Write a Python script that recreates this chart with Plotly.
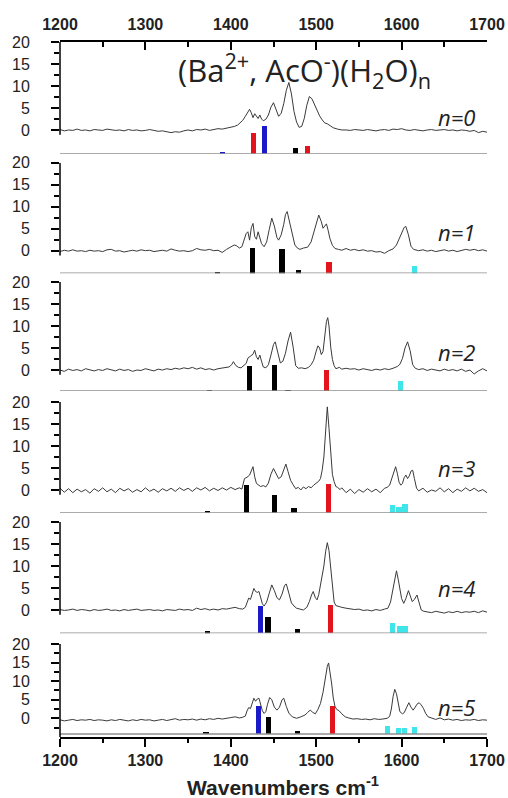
import plotly.graph_objects as go

# ---------------- data ----------------
panel_labels = ["n=0", "n=1", "n=2", "n=3", "n=4", "n=5"]
x_ticks = [1200, 1300, 1400, 1500, 1600, 1700]
x_minor = [1250, 1350, 1450, 1550, 1650]
y_ticks = [0, 5, 10, 15, 20]

spec_n0 = [(1200,0.1),(1205,-0.2),(1210,0.0),(1215,-0.1),(1220,0.2),(1225,-0.1),(1230,0.0),(1235,-0.2),(1240,0.1),(1245,0.0),
 (1250,-0.1),(1255,0.2),(1260,0.1),(1265,-0.1),(1270,0.0),(1275,-0.2),(1280,0.1),(1285,-0.1),(1290,0.0),(1295,-0.2),
 (1300,-0.1),(1305,0.1),(1310,-0.1),(1315,-0.3),(1320,-0.2),(1325,-0.4),(1330,-0.6),(1335,-0.4),(1340,-0.5),(1345,-0.2),
 (1350,0.0),(1355,-0.2),(1360,0.1),(1365,0.0),(1370,0.2),(1375,-0.1),(1380,0.1),(1385,0.3),(1390,0.2),(1395,0.4),
 (1400,0.5),(1404,0.8),(1408,1.1),(1411,1.6),(1414,2.2),(1417,3.1),(1420,4.0),(1422,4.7),(1424,3.9),(1426,2.8),
 (1428,3.7),(1430,3.2),(1432,2.6),(1434,3.4),(1436,2.5),(1438,2.1),(1441,2.4),(1444,3.4),(1447,5.2),(1450,6.2),
 (1453,4.6),(1456,3.1),(1459,3.8),(1462,6.0),(1465,9.0),(1468,10.8),(1471,8.2),(1474,4.2),(1477,1.8),(1480,0.6),
 (1483,0.8),(1486,2.6),(1489,5.6),(1492,7.6),(1495,7.1),(1498,5.7),(1501,4.4),(1504,3.2),(1507,2.3),(1510,1.6),
 (1513,1.4),(1516,1.0),(1520,0.5),(1525,0.2),(1530,0.0),(1535,0.0),(1540,-0.1),(1545,0.1),(1550,0.0),(1555,-0.1),
 (1560,0.1),(1565,0.0),(1570,-0.2),(1575,0.0),(1580,0.1),(1585,-0.1),(1590,0.2),(1595,0.1),(1600,0.3),(1605,0.0),
 (1610,-0.1),(1615,0.1),(1620,0.0),(1625,-0.2),(1630,0.0),(1635,0.1),(1640,-0.1),(1645,0.0),(1650,0.1),(1655,-0.1),
 (1660,0.0),(1665,-0.2),(1670,0.0),(1675,-0.1),(1680,-0.3),(1685,-0.1),(1690,-0.6),(1695,-0.3),(1700,-0.5)]

spec_n1 = [(1200,-0.2),(1205,0.1),(1210,-0.1),(1215,0.2),(1220,-0.1),(1225,0.0),(1230,-0.2),(1235,0.1),(1240,-0.1),(1245,0.0),
 (1250,-0.2),(1255,0.2),(1260,0.3),(1265,-0.1),(1270,0.0),(1275,-0.3),(1280,-0.1),(1285,0.1),(1290,-0.1),(1295,0.2),
 (1300,0.0),(1305,0.1),(1310,-0.2),(1315,0.0),(1320,0.1),(1325,-0.1),(1330,0.4),(1335,0.1),(1340,-0.1),(1345,0.0),
 (1350,-0.2),(1355,0.0),(1360,0.5),(1365,0.2),(1370,0.1),(1375,0.3),(1380,0.0),(1385,0.1),(1390,-0.4),(1395,0.3),
 (1398,0.6),(1401,1.0),(1404,1.3),(1407,1.1),(1410,0.6),(1413,0.9),(1416,2.6),(1418,3.9),(1420,4.3),(1422,2.4),
 (1424,5.2),(1426,6.2),(1428,3.2),(1430,2.6),(1432,4.3),(1434,3.2),(1436,1.6),(1439,0.9),(1442,2.0),(1445,4.8),
 (1448,7.4),(1451,5.6),(1454,3.0),(1456,2.4),(1459,3.6),(1462,6.0),(1464,8.2),(1466,8.9),(1469,6.4),(1472,3.4),
 (1475,1.3),(1478,0.6),(1481,0.3),(1485,0.6),(1490,0.8),(1494,2.0),(1497,4.0),(1500,6.4),(1503,8.1),(1506,6.6),
 (1508,5.1),(1510,5.6),(1512,6.1),(1514,4.6),(1516,2.8),(1519,1.2),(1522,0.5),(1526,0.3),(1530,0.1),(1535,0.5),
 (1540,0.1),(1545,0.3),(1550,0.0),(1555,0.2),(1560,-0.1),(1565,0.0),(1570,-0.3),(1575,-0.2),(1580,-0.6),(1585,0.0),
 (1590,0.4),(1594,1.3),(1597,2.6),(1600,4.2),(1603,5.3),(1605,5.5),(1608,3.6),(1611,1.0),(1614,0.3),(1620,0.0),
 (1625,0.2),(1630,-0.1),(1635,0.1),(1640,-0.2),(1645,0.0),(1650,0.2),(1655,-0.1),(1660,0.1),(1665,-0.2),(1670,0.0),
 (1675,0.3),(1680,0.1),(1685,0.3),(1690,0.0),(1695,0.2),(1700,-0.1)]

spec_n2 = [(1200,0.0),(1205,-0.3),(1210,0.2),(1215,-0.1),(1220,0.1),(1225,-0.2),(1230,0.3),(1235,0.0),(1240,-0.2),(1245,0.1),
 (1250,-0.1),(1255,0.3),(1260,0.0),(1265,-0.2),(1270,0.2),(1275,-0.1),(1280,0.1),(1285,-0.3),(1290,0.0),(1295,-0.1),
 (1300,0.3),(1305,0.0),(1310,-0.2),(1315,0.2),(1320,0.0),(1325,0.3),(1330,0.1),(1335,0.4),(1340,0.2),(1345,0.5),
 (1350,0.3),(1355,0.6),(1360,0.2),(1365,0.5),(1370,0.1),(1375,0.3),(1380,0.0),(1385,0.3),(1390,0.4),(1395,0.6),
 (1398,0.7),(1401,1.2),(1403,1.9),(1406,1.0),(1409,0.6),(1412,0.5),(1415,0.9),(1418,1.5),(1420,2.7),(1422,3.0),
 (1424,3.4),(1426,3.6),(1428,4.5),(1430,3.0),(1432,2.4),(1434,3.4),(1436,2.0),(1438,0.7),(1441,0.5),(1444,1.2),
 (1447,3.4),(1450,5.8),(1452,6.4),(1455,3.8),(1458,1.6),(1461,2.0),(1464,3.8),(1467,6.6),(1470,8.6),(1473,5.2),
 (1476,1.0),(1479,0.4),(1483,0.5),(1487,0.3),(1491,0.6),(1494,1.2),(1497,2.2),(1500,4.3),(1502,5.5),(1504,5.0),
 (1506,3.5),(1508,4.2),(1510,7.8),(1512,11.0),(1513.5,11.9),(1515,10.0),(1517,5.2),(1519,2.4),(1521,1.0),(1523,0.3),
 (1527,0.6),(1530,0.2),(1535,0.4),(1540,0.2),(1545,0.3),(1550,0.0),(1555,0.3),(1560,0.1),(1565,-0.1),(1570,0.2),
 (1575,0.0),(1580,0.3),(1585,0.1),(1590,0.4),(1595,0.8),(1598,1.3),(1601,2.6),(1604,5.0),(1607,6.4),(1610,4.4),
 (1613,1.2),(1616,0.4),(1620,0.1),(1625,0.3),(1630,-0.1),(1635,0.2),(1640,0.0),(1645,-0.2),(1650,0.2),(1655,-0.1),
 (1660,0.1),(1665,-0.2),(1670,0.2),(1675,-0.3),(1680,0.0),(1685,-0.9),(1690,-0.2),(1695,0.3),(1700,-0.2)]

spec_n3 = [(1200,0.4),(1205,-0.5),(1210,0.3),(1215,-0.6),(1220,0.2),(1225,-0.4),(1230,0.1),(1235,-0.7),(1240,0.3),(1245,-0.3),
 (1250,0.5),(1255,-0.4),(1260,0.2),(1265,-0.6),(1270,0.4),(1275,-0.2),(1280,0.3),(1285,-0.5),(1290,0.1),(1295,-0.4),
 (1300,0.5),(1305,-0.3),(1310,0.2),(1315,-0.5),(1320,0.3),(1325,-0.2),(1330,0.4),(1335,-0.3),(1340,0.5),(1345,-0.1),
 (1350,0.4),(1355,-0.3),(1360,0.5),(1365,0.0),(1370,0.6),(1375,-0.2),(1380,0.4),(1385,-0.1),(1390,0.5),(1395,0.0),
 (1400,0.6),(1405,0.1),(1410,0.5),(1413,0.2),(1416,2.6),(1419,2.9),(1422,3.4),(1424,4.5),(1426,5.3),(1428,3.0),
 (1430,1.5),(1432,1.2),(1435,0.8),(1438,1.0),(1441,0.7),(1444,1.6),(1447,3.6),(1450,4.9),(1453,3.8),(1456,2.6),
 (1459,3.0),(1462,4.6),(1464.5,5.9),(1467,4.2),(1470,2.2),(1473,1.2),(1476,0.3),(1479,0.6),(1482,0.0),(1485,0.7),
 (1488,0.3),(1491,0.8),(1494,0.5),(1497,1.1),(1500,1.5),(1503,2.0),(1505,2.6),(1507,4.5),(1509,7.5),(1511,13.0),
 (1513,18.9),(1515,14.0),(1517,8.0),(1519,3.5),(1521,1.9),(1523,0.8),(1525,0.6),(1528,0.1),(1530,0.5),(1535,-0.6),
 (1540,0.2),(1545,-0.8),(1550,0.1),(1555,-0.5),(1560,0.3),(1565,-0.4),(1570,0.2),(1575,-0.6),(1580,0.4),(1583,0.6),
 (1586,1.1),(1589,3.0),(1591,4.5),(1593,5.3),(1595,3.8),(1597,1.8),(1599,1.1),(1601,1.5),(1603,2.8),(1605,3.4),
 (1607,2.6),(1609,3.2),(1611,4.3),(1613,4.5),(1615,2.6),(1617.5,0.4),(1620,-0.2),(1625,0.4),(1630,-0.5),(1635,0.0),
 (1640,-0.3),(1645,0.5),(1650,-0.4),(1655,0.3),(1660,-0.6),(1665,0.2),(1670,-0.3),(1675,0.5),(1680,-0.2),(1685,0.4),
 (1690,-0.3),(1695,0.1),(1700,-0.6)]

spec_n4 = [(1200,0.1),(1205,-0.1),(1210,0.0),(1215,0.2),(1220,-0.1),(1225,0.1),(1230,0.0),(1235,-0.2),(1240,0.1),(1245,-0.1),
 (1250,0.0),(1255,0.2),(1260,-0.1),(1265,0.0),(1270,-0.2),(1275,0.1),(1280,-0.1),(1285,0.0),(1290,0.2),(1295,-0.1),
 (1300,0.0),(1305,0.1),(1310,-0.1),(1315,0.0),(1320,-0.2),(1325,0.1),(1330,0.0),(1335,-0.1),(1340,0.2),(1345,0.0),
 (1350,0.1),(1355,-0.1),(1360,0.4),(1365,0.1),(1370,0.3),(1375,0.0),(1380,0.2),(1385,0.0),(1390,0.3),(1395,0.2),
 (1400,0.4),(1405,0.6),(1410,0.3),(1414,0.2),(1417,0.6),(1419,1.8),(1421,2.7),(1423,2.4),(1425,4.0),(1427,4.9),
 (1429,4.2),(1431,4.0),(1433,4.2),(1435,3.0),(1437,1.4),(1439,0.9),(1442,1.8),(1445,3.8),(1448,5.7),(1451,4.4),
 (1454,2.8),(1457,2.3),(1460,3.6),(1463,5.6),(1465,5.9),(1468,3.8),(1471,1.6),(1474,0.9),(1477,0.4),(1481,0.2),
 (1485,0.0),(1489,0.6),(1492,1.9),(1494.5,3.4),(1496.5,4.2),(1499,2.8),(1501,2.3),(1503,3.5),(1505,5.6),(1507,7.5),
 (1509,10.0),(1511,13.2),(1513,15.3),(1515,13.5),(1517,9.0),(1519,4.6),(1521,1.8),(1523,1.0),(1526,0.8),(1530,0.6),
 (1535,0.4),(1540,0.3),(1545,0.1),(1550,0.2),(1555,-0.1),(1560,0.0),(1565,-0.2),(1570,0.1),(1575,-0.1),(1580,0.2),
 (1584,0.4),(1587,1.8),(1589.5,4.5),(1592,7.5),(1594,8.9),(1596,7.0),(1598,4.6),(1600,2.6),(1602.5,1.5),(1605,2.6),
 (1608,4.4),(1610,3.2),(1612.5,1.9),(1615,2.4),(1618,3.4),(1620,2.0),(1623,0.0),(1626,-0.3),(1630,-0.4),(1635,-0.6),
 (1640,-0.3),(1645,-0.5),(1650,-0.7),(1655,-0.4),(1660,-0.6),(1665,-0.3),(1670,-0.6),(1675,-0.4),(1680,-0.5),(1685,-0.3),
 (1690,-0.6),(1695,-0.2),(1700,-0.5)]

spec_n5 = [(1200,-0.4),(1205,-0.7),(1210,-0.5),(1215,-0.3),(1220,-0.6),(1225,-0.4),(1230,-0.5),(1235,-0.3),(1240,-0.6),(1245,-0.4),
 (1250,-0.5),(1255,-0.7),(1260,-0.4),(1265,-0.6),(1270,-0.3),(1275,-0.5),(1280,-0.7),(1285,-0.4),(1290,-0.6),(1295,-0.3),
 (1300,-0.5),(1305,-0.4),(1310,-0.7),(1315,-0.5),(1320,-0.3),(1325,-0.6),(1330,-0.4),(1335,-0.1),(1340,-0.5),(1345,-0.3),
 (1350,-0.4),(1355,-0.2),(1360,-0.5),(1365,-0.2),(1370,-0.4),(1375,-0.1),(1380,-0.3),(1385,0.0),(1390,-0.2),(1395,0.1),
 (1400,0.2),(1405,0.4),(1410,0.1),(1414,0.3),(1417,0.6),(1419,2.0),(1421,2.9),(1423,2.6),(1425,4.2),(1427,5.4),
 (1429,4.6),(1431,5.2),(1433,5.4),(1435,4.0),(1437,2.0),(1439,1.3),(1441,1.8),(1443,3.8),(1445.5,5.6),(1448,5.0),
 (1451,3.0),(1454,2.2),(1457,3.0),(1460,5.0),(1462,5.4),(1465,3.2),(1468,1.4),(1472,0.4),(1477,0.0),(1482,0.4),
 (1487,0.9),(1490,1.6),(1493,2.2),(1496,1.6),(1499,1.2),(1502,2.4),(1505,4.0),(1508,7.0),(1511,11.5),(1513,14.0),
 (1514.5,14.9),(1516,13.0),(1518,9.5),(1520,5.5),(1522,3.2),(1524,2.4),(1527,2.0),(1530,1.2),(1534,0.4),(1538,0.1),
 (1543,-0.2),(1548,-0.1),(1553,-0.3),(1558,-0.2),(1563,-0.4),(1568,-0.1),(1573,-0.3),(1578,-0.2),(1583,0.0),(1586,0.5),
 (1588,2.5),(1590,5.8),(1592,7.8),(1594,6.6),(1596,3.6),(1598,1.8),(1601,1.2),(1603,1.5),(1606,3.0),(1608.5,4.2),
 (1611,3.0),(1613.5,2.2),(1616,3.0),(1618,3.8),(1620.5,4.2),(1623,3.6),(1625.5,2.7),(1628,1.4),(1631,0.4),(1635,0.0),
 (1640,-0.3),(1645,0.1),(1650,-0.4),(1655,-0.2),(1660,-0.5),(1665,-0.3),(1670,-0.6),(1675,-0.4),(1680,-0.5),(1685,-0.3),
 (1690,-0.6),(1695,-0.4),(1700,-0.5)]

# computed stick spectra: position, height (above the panel baseline), colour group
bars_n0 = [(1390, 0.25, "blue"), (1427, 4.6, "red"), (1439, 6.4, "blue"), (1476, 1.4, "black"), (1490, 1.75, "red")]
bars_n1 = [(1384, 0.35, "black"), (1425, 5.9, "black"), (1460, 5.7, "black"), (1479, 0.75, "black"), (1515, 2.6, "red"), (1615.5, 1.65, "cyan")]
bars_n2 = [(1375, 0.35, "black"), (1421.5, 5.7, "black"), (1451, 5.9, "black"), (1467, 0.35, "black"), (1512, 4.8, "red"), (1599, 2.3, "cyan")]
bars_n3 = [(1373, 0.3, "black"), (1418, 6.3, "black"), (1451, 4.0, "black"), (1474, 1.15, "black"), (1514, 6.45, "red"),
           (1589, 1.7, "cyan"), (1597, 1.35, "cyan"), (1604, 1.95, "cyan")]
bars_n4 = [(1373, 0.45, "black"), (1435, 6.2, "blue"), (1443.5, 3.8, "black"), (1478, 0.9, "black"), (1516.5, 6.4, "red"),
           (1589, 2.3, "cyan"), (1598, 1.7, "cyan"), (1604, 1.75, "cyan")]
bars_n5 = [(1371, 0.55, "black"), (1432.5, 7.55, "blue"), (1444, 4.5, "black"), (1478, 0.9, "black"), (1519.5, 7.55, "red"),
           (1583.5, 2.15, "cyan"), (1596, 1.55, "cyan"), (1603, 1.5, "cyan"), (1615, 1.95, "cyan")]

spectra = [spec_n0, spec_n1, spec_n2, spec_n3, spec_n4, spec_n5]
sticks = [bars_n0, bars_n1, bars_n2, bars_n3, bars_n4, bars_n5]

# ---------------- styling / layout ----------------
COLORS = {"red": "#e3141b", "blue": "#1a1ac8", "black": "#000000", "cyan": "#3ee6ea"}
FONT = "Liberation Sans, Arial, sans-serif"

# per panel: y-domain, axis range bottom, stick baseline, spine bottom
domains = [(0.8393, 1.0), (0.6672, 0.8263), (0.4978, 0.6547), (0.3227, 0.4820), (0.1492, 0.3094), (0.0, 0.1338)]
range_lo = [-5.39, -5.14, -4.77, -5.16, -5.30, -5.03]
stick_base = [-5.39, -5.14, -4.77, -5.16, -5.30, -4.23]
spine_lo = [-1.1, -1.1, -1.1, -1.1, -1.1, -5.03]
label_y = [0.8925, 0.7262, 0.5544, 0.3866, 0.2140, 0.0436]

fig = go.Figure()
shapes = []
annotations = []

for i in range(6):
    ya = "y" if i == 0 else f"y{i+1}"
    xs = [p[0] for p in spectra[i]]
    ys = [p[1] for p in spectra[i]]
    fig.add_trace(go.Scatter(x=xs, y=ys, mode="lines", xaxis="x", yaxis=ya,
                             line=dict(color="#3a3a3a", width=1), hoverinfo="skip", showlegend=False))
    bx = [b[0] for b in sticks[i]]
    bh = [b[1] for b in sticks[i]]
    bc = [COLORS[b[2]] for b in sticks[i]]
    fig.add_trace(go.Bar(x=bx, y=bh, base=stick_base[i], width=6, xaxis="x", yaxis=ya,
                         marker=dict(color=bc, line=dict(width=0)), hoverinfo="skip", showlegend=False))

    lay_name = "yaxis" if i == 0 else f"yaxis{i+1}"
    fig.layout[lay_name] = dict(
        domain=list(domains[i]), range=[range_lo[i], 20], anchor="x", automargin=False,
        showline=False, showgrid=False, zeroline=False,
        tickmode="array", tickvals=y_ticks, ticks="outside", ticklen=8, tickwidth=1.5, tickcolor="black",
        minor=dict(tickmode="array", tickvals=([2.5, 7.5, 12.5, 17.5] + ([-2.5] if i == 5 else [])),
                   ticks="outside", ticklen=5, tickwidth=1.5, tickcolor="black"),
        tickfont=dict(family=FONT, size=16, color="#222"), ticklabelstandoff=18,
    )
    # grey stick baseline
    shapes.append(dict(type="line", xref="x", yref=ya, x0=1200, x1=1700, y0=stick_base[i], y1=stick_base[i],
                       line=dict(color="#8f8f8f", width=1.5)))
    # left spine segment
    shapes.append(dict(type="line", xref="paper", yref=ya, x0=0, x1=0, y0=spine_lo[i], y1=20,
                       line=dict(color="black", width=1.5)))
    annotations.append(dict(text=f"<i>{panel_labels[i]}</i>", xref="paper", yref="paper",
                            x=0.9766, y=label_y[i], xanchor="right", yanchor="middle", showarrow=False,
                            font=dict(family="Open Sans, sans-serif", size=22, color="#222")))

# dummy trace to activate the top axis
fig.add_trace(go.Scatter(x=[1200], y=[0], xaxis="x2", yaxis="y", mode="markers",
                         marker=dict(opacity=0), hoverinfo="skip", showlegend=False))

annotations.append(dict(text="(Ba<sup>2+</sup>, AcO<sup>-</sup>)(H<sub>2</sub>O)<sub>n</sub>", xref="paper", yref="paper",
                        x=0.572, y=0.9597, xanchor="center", yanchor="middle", showarrow=False,
                        font=dict(family="Open Sans, sans-serif", size=31, color="#222")))
annotations.append(dict(text="<b>Wavenumbers cm<sup>-1</sup></b>", xref="paper", yref="paper",
                        x=0.522, y=-0.0705, xanchor="center", yanchor="middle", showarrow=False,
                        font=dict(family=FONT, size=21, color="#222")))

xcommon = dict(range=[1200, 1700], showgrid=False, zeroline=False, showline=True, linecolor="black", linewidth=1.5,
               automargin=False,
               tickmode="array", tickvals=x_ticks, tickwidth=1.5, tickcolor="black", ticklen=8,
               tickfont=dict(family=FONT, size=16, color="#222", weight="bold"))
fig.update_layout(
    width=508, height=798,
    margin=dict(l=60, r=21, t=42, b=61, autoexpand=False),
    paper_bgcolor="white", plot_bgcolor="white",
    showlegend=False, barmode="overlay", bargap=0,
    xaxis=dict(**xcommon, anchor="y6", side="bottom", ticks="outside", ticklabelstandoff=0,
               minor=dict(tickmode="array", tickvals=x_minor, ticks="outside", ticklen=4, tickwidth=1.5, tickcolor="black")),
    xaxis2=dict(**xcommon, anchor="y", side="top", overlaying="x", ticks="inside", ticklabelstandoff=4,
                minor=dict(tickmode="array", tickvals=x_minor, ticks="inside", ticklen=5, tickwidth=1.5, tickcolor="black")),
    shapes=shapes, annotations=annotations,
)

fig.write_html("out.html", config={"displayModeBar": False},
               post_script="document.body.style.margin='0';document.body.style.padding='0';")
